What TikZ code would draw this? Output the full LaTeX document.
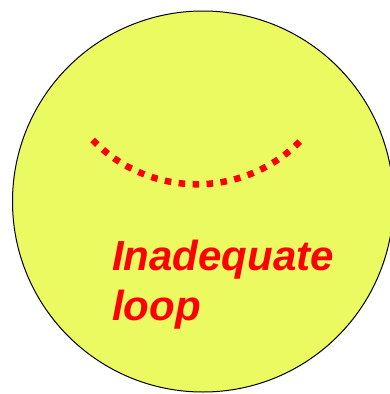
\documentclass[tikz,border=0pt]{standalone}
\usepackage{fontspec}
\setmainfont{Liberation Sans}
\definecolor{disk}{RGB}{235,250,96}
\definecolor{loopred}{RGB}{255,0,0}
\tikzset{
  lbl/.style={text=loopred, font=\fontsize{42}{50}\selectfont\bfseries\itshape, inner sep=0pt, anchor=base west},
  dots/.style={draw=loopred, line width=6.5pt, dash pattern=on 6.5pt off 7.5pt}
}
\begin{document}
\begin{tikzpicture}[x=1pt,y=-1pt]
\useasboundingbox (0,0) rectangle (390,394);
\begin{scope}
\clip (0,0) rectangle (390,394);
\node[circle, draw=black, line width=1pt, fill=disk, minimum size=381pt, inner sep=0pt] (disk) at (203,201.5) {};
\end{scope}
\coordinate (arcstart) at (92.7,140);
\draw[dots] (arcstart) arc[start angle=136, end angle=44, radius=145];
\node[lbl] (w1) at (112,270) {Inadequate};
\node[lbl] (w2) at (112,320) {loop};
\end{tikzpicture}
\end{document}
